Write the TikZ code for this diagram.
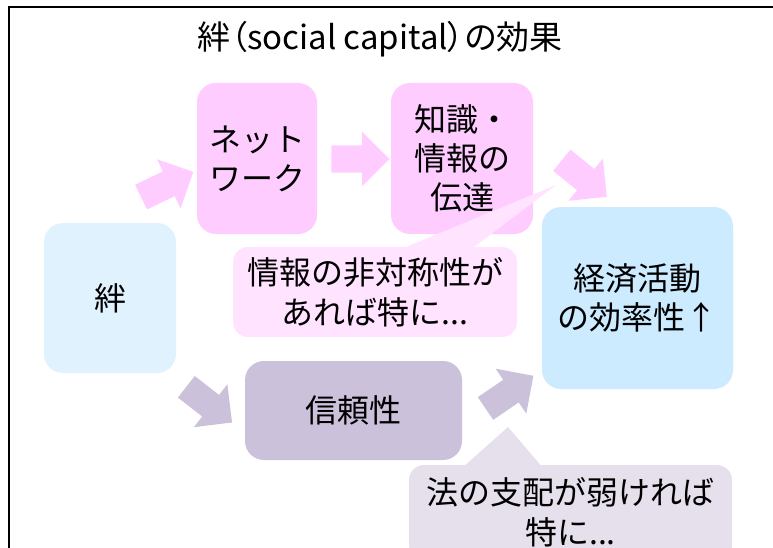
\documentclass[tikz,border=0pt]{standalone}
\usepackage{fontspec}
\setmainfont{Noto Sans CJK JP}
\usetikzlibrary{shapes.arrows}
\definecolor{pinkbox}{HTML}{FFCCFF}
\definecolor{pinkcall}{HTML}{FFE3FF}
\definecolor{bluelight}{HTML}{E1F2FF}
\definecolor{bluebox}{HTML}{CCEBFF}
\definecolor{lavbox}{HTML}{CCC1DA}
\definecolor{lavcall}{HTML}{E5E0EC}
\tikzset{
  box/.style={rectangle, rounded corners=19pt, inner sep=0pt, align=center,
    font=\fontsize{32}{39}\selectfont},
  callout/.style={rectangle, rounded corners=15pt, inner sep=0pt, align=center,
    font=\fontsize{32}{40}\selectfont},
  barrow/.style={single arrow, draw=none, inner xsep=0pt, inner ysep=13.5pt,
    minimum height=58pt, minimum width=54pt, single arrow head extend=13.5pt,
    single arrow tip angle=90},
}
\begin{document}
\begin{tikzpicture}[x=1pt,y=-1pt]
\useasboundingbox (0,0) rectangle (773,548);
\draw[line width=2pt] (8.5,548) -- (8.5,7.5) -- (773,7.5);
\node[font=\fontsize{33}{38}\selectfont\addfontfeatures{RawFeature=+palt}] (title) at (380,39) {絆（social capital）の効果};
% boxes
\node[box, fill=bluelight, minimum width=132pt, minimum height=150pt] (kizuna) at (110,298) {絆};
\node[box, fill=pinkbox, minimum width=120pt, minimum height=151pt] (net) at (257,158.5) {ネット\\ワーク};
\node[box, fill=pinkbox, minimum width=142pt, minimum height=151pt] (info) at (462,158.5) {知識・\\情報の\\伝達};
\node[box, fill=bluebox, minimum width=191pt, minimum height=182pt] (econ) at (637.5,298) {経済活動\\の効率性↑};
\node[box, fill=lavbox, minimum width=217pt, minimum height=99pt] (trust) at (353.5,410.5) {信頼性};
% callout 1
\fill[pinkcall] (399,250) -- (556,185) -- (470,250) -- cycle;
\node[callout, fill=pinkcall, minimum width=284pt, minimum height=90pt] (asym) at (375,292) {情報の非対称性が\\あれば特に...};
% callout 2
\fill[lavcall] (462,468) -- (508,427) -- (543,468) -- cycle;
\node[callout, fill=lavcall, minimum width=323pt, minimum height=95pt] (law) at (570.5,512.5) {法の支配が弱ければ\\特に...};
% block arrows
\node[barrow, fill=pinkbox, rotate=25.7] (a1) at (161,187.5) {};
\node[barrow, fill=pinkbox] (a2) at (353.5,159) {};
\node[barrow, fill=pinkbox, rotate=-39.1] (a3) at (579,174.2) {};
\node[barrow, fill=lavbox, rotate=-38] (a4) at (203.8,400.4) {};
\node[barrow, fill=lavbox, rotate=34.3] (a5) at (503.8,396) {};
\end{tikzpicture}
\end{document}
